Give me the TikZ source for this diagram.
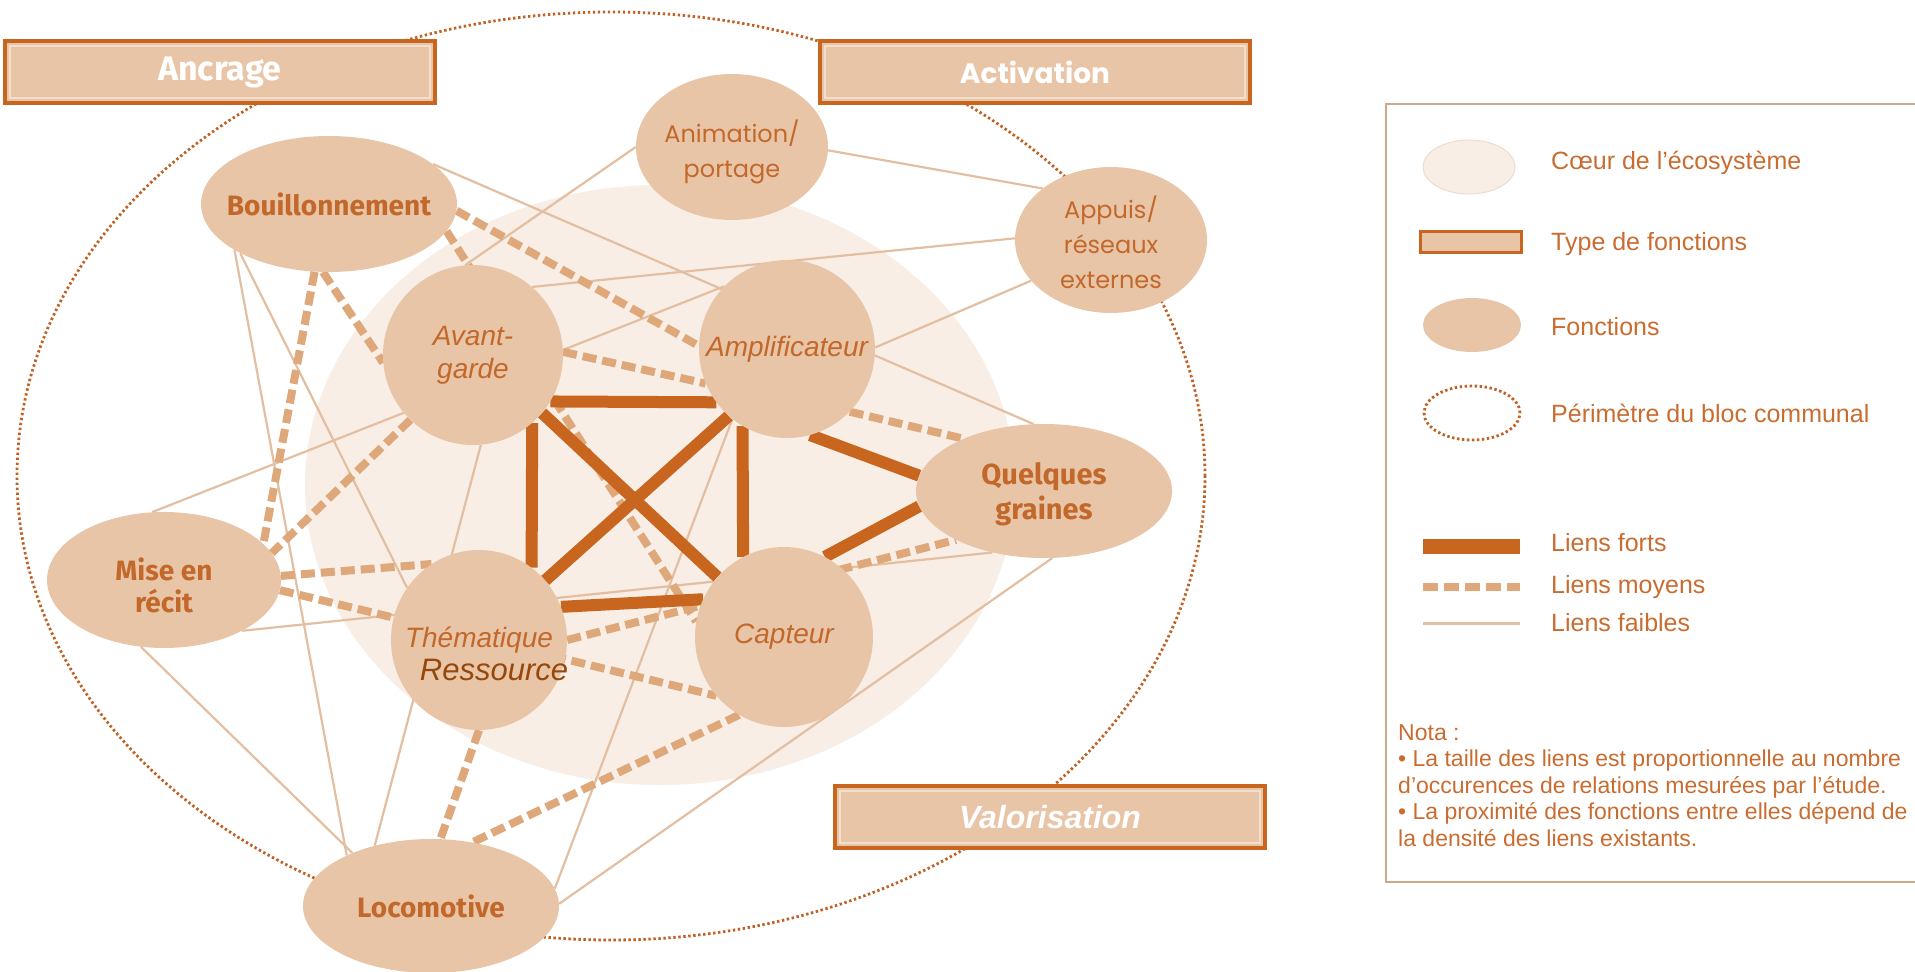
\documentclass[tikz,border=0pt]{standalone}
\usepackage{fontspec}
\setmainfont{Liberation Sans}
\newfontfamily\humfont{Fira Sans}
\newfontfamily\geofont{Poppins}
\usepackage{tikz}
\usetikzlibrary{shapes.geometric}
\definecolor{cfct}{RGB}{233,197,168}
\definecolor{ccore}{RGB}{248,238,230}
\definecolor{ccoreline}{RGB}{236,220,207}
\definecolor{cfort}{RGB}{200,101,30}
\definecolor{cmoyen}{RGB}{223,168,122}
\definecolor{cfaible}{RGB}{227,190,160}
\definecolor{clbl}{RGB}{194,104,42}
\definecolor{cress}{RGB}{150,72,10}
\definecolor{cleg}{RGB}{207,168,138}
\definecolor{clegtxt}{RGB}{200,108,48}
\definecolor{cperim}{RGB}{192,96,36}
\definecolor{cinner}{RGB}{242,222,205}

\pgfdeclarelayer{fond}
\pgfdeclarelayer{liens}
\pgfsetlayers{fond,liens,main}

\begin{document}
\begin{tikzpicture}[x=1pt, y=-1pt,
	fct/.style={ellipse, fill=cfct, inner sep=0pt},
	typebox/.style={draw=cfort, line width=4pt, fill=cfct, minimum width=430pt, minimum height=62pt, inner sep=0pt, text=white},
	lblbold/.style={font=\humfont\bfseries\fontsize{28}{32}\selectfont, text=clbl, align=center},
	lblgeo/.style={font=\geofont\fontsize{24}{35}\selectfont, text=clbl, align=center},
	lblit/.style={font=\itshape\fontsize{28}{33}\selectfont, text=clbl, align=center},
	fort/.style={draw=cfort, line width=12pt},
	moyen/.style={draw=cmoyen, line width=8pt, dash pattern=on 14pt off 6pt},
	faible/.style={draw=cfaible, line width=2.2pt},
	perim/.style={draw=cperim, line width=2.8pt, dash pattern=on 2.4pt off 2.6pt},
	legtxt/.style={anchor=west, font=\fontsize{25}{30}\selectfont, text=clegtxt, inner sep=0pt}]
	\useasboundingbox (0,0) rectangle (1915,972);

	% fonctions
	\node[fct, minimum width=192pt, minimum height=146pt, label={[lblgeo, yshift=-5pt]center:Animation/\\portage}] (anim) at (732,147) {};
	\node[fct, minimum width=256pt, minimum height=136pt, label={[lblbold]center:Bouillonnement}] (bouil) at (329,204) {};
	\node[fct, minimum width=192pt, minimum height=146pt, label={[lblgeo, yshift=-2pt]center:Appuis/\\réseaux\\externes}] (appuis) at (1111,240) {};
	\node[fct, minimum width=180pt, minimum height=180pt, label={[lblit]center:Avant-\\garde}] (avant) at (473,355) {};
	\node[fct, minimum width=176pt, minimum height=178pt, label={[lblit]center:Amplificateur}] (ampli) at (787,349) {};
	\node[fct, minimum width=256pt, minimum height=134pt, label={[lblbold, font=\humfont\bfseries\fontsize{29}{35}\selectfont, yshift=-3pt]center:Quelques\\graines}] (graines) at (1044,491) {};
	\node[fct, minimum width=234pt, minimum height=136pt, label={[lblbold, yshift=-5pt]center:Mise en\\récit}] (recit) at (164,580) {};
	\node[fct, minimum width=176pt, minimum height=180pt, label={[lblit]center:Thématique}] (thema) at (479,640) {};
	\node[fct, minimum width=178pt, minimum height=180pt, label={[lblit]center:Capteur}] (capteur) at (784,637) {};
	\node[fct, minimum width=256pt, minimum height=134pt, label={[lblbold]center:Locomotive}] (loco) at (431,906) {};
	\node[font=\itshape\fontsize{31}{36}\selectfont, text=cress, inner sep=0pt] (ress) at (494,670) {Ressource};

	% types de fonctions
	\node[typebox, font=\humfont\bfseries\fontsize{34}{40}\selectfont] (ancrage) at (220,72) {Ancrage};
	\node[typebox, font=\geofont\bfseries\fontsize{28}{34}\selectfont] (activation) at (1035,72) {Activation};
	\node[typebox, font=\bfseries\itshape\fontsize{32}{38}\selectfont] (valorisation) at (1050,817) {Valorisation};
	\foreach \b in {ancrage,activation,valorisation}
		\draw[cinner, line width=1.2pt] ([shift={(7,7)}]\b.north west) rectangle ([shift={(-7,-7)}]\b.south east);

	\begin{pgfonlayer}{fond}
		\fill[ccore] (660,485) ellipse [x radius=355pt, y radius=300pt];
		\draw[perim] (611,476) ellipse [x radius=594pt, y radius=464pt];
	\end{pgfonlayer}

	\begin{pgfonlayer}{liens}
		% liens faibles
		\draw[faible] (bouil.21.5) -- (graines.99.5);
		\draw[faible] (bouil.206) -- (loco.149);
		\draw[faible] (bouil.209) -- (thema.144);
		\draw[faible] (recit.100) -- (ampli.135);
		\draw[faible] (recit.-33) -- (graines.-130);
		\draw[faible] (recit.-109) -- (loco.146);
		\draw[faible] (anim.-2) -- (appuis.143);
		\draw[faible] (anim.180) -- (avant.95);
		\draw[faible] (appuis.179) -- (avant.49);
		\draw[faible] (appuis.207) -- (ampli.1);
		\draw[faible] (avant.-85) -- (loco.133);
		\draw[faible] (ampli.-128) -- (loco.8.5);
		\draw[faible] (graines.-83) -- (loco.1);
		% liens moyens
		\draw[moyen] (bouil.-3) -- (ampli.178);
		\draw[moyen] (bouil.-13.5) -- (capteur.170);
		\draw[moyen] (bouil.265) -- (avant.185);
		\draw[moyen] (bouil.258) -- (recit.20);
		\draw[moyen] (avant.2) -- (ampli.203);
		\draw[moyen] (avant.226) -- (recit.14);
		\draw[moyen] (recit.2) -- (thema.122);
		\draw[moyen] (recit.-5) -- (capteur.221);
		\draw[moyen] (thema.0) -- (graines.209);
		\draw[moyen] (ampli.-45) -- (graines.147);
		\draw[moyen] (thema.-90) -- (loco.82);
		\draw[moyen] (capteur.240) -- (loco.57);
		% liens forts
		\draw[fort] (avant.-31) -- (ampli.-143);
		\draw[fort] (avant.-49) -- (thema.54);
		\draw[fort] (ampli.-120) -- (capteur.117);
		\draw[fort] (thema.22) -- (capteur.155);
		\draw[fort] (avant.-40) -- (capteur.138);
		\draw[fort] (ampli.-131) -- (thema.42);
		\draw[fort] (ampli.-75) -- (graines.173);
		\draw[fort] (capteur.63) -- (graines.187);
	\end{pgfonlayer}

	% legende
	\draw[cleg, line width=2pt] (1930,104) -- (1386,104) -- (1386,882) -- (1930,882);
	\node[fct, fill=ccore, draw=ccoreline, line width=1pt, minimum width=92pt, minimum height=54pt] (lg-coeur) at (1469,167) {};
	\node[legtxt] (t-coeur) at (1551,163) {Cœur de l’écosystème};
	\node[draw=cfort, line width=3pt, fill=cfct, minimum width=101pt, minimum height=21pt, inner sep=0pt] (lg-type) at (1471,242) {};
	\node[legtxt] (t-type) at (1551,244) {Type de fonctions};
	\node[fct, minimum width=98pt, minimum height=54pt] (lg-fct) at (1472,325) {};
	\node[legtxt] (t-fct) at (1551,327) {Fonctions};
	\node[ellipse, perim, fill=white, minimum width=96pt, minimum height=54pt] (lg-perim) at (1472,413) {};
	\node[legtxt] (t-perim) at (1551,413) {Périmètre du bloc communal};
	\coordinate (lf-a) at (1423,546);
	\coordinate (lf-b) at (1520,546);
	\coordinate (lm-a) at (1423,587);
	\coordinate (lm-b) at (1520,587);
	\coordinate (lw-a) at (1423,623);
	\coordinate (lw-b) at (1520,623);
	\draw[fort, line width=15pt] (lf-a) -- (lf-b);
	\draw[moyen, dash pattern=on 15pt off 6pt] (lm-a) -- (lm-b);
	\draw[faible, line width=3pt] (lw-a) -- (lw-b);
	\node[legtxt] (t-fort) at (1551,543) {Liens forts};
	\node[legtxt] (t-moyen) at (1551,587) {Liens moyens};
	\node[legtxt] (t-faible) at (1551,623) {Liens faibles};
	\node[anchor=north west, align=left, inner sep=0pt, text=clegtxt, font=\fontsize{23}{26.6}\selectfont] (nota) at (1398,724)
		{Nota :\\• La taille des liens est proportionnelle au nombre\\d’occurences de relations mesurées par l’étude.\\• La proximité des fonctions entre elles dépend de\\la densité des liens existants.};
\end{tikzpicture}
\end{document}
